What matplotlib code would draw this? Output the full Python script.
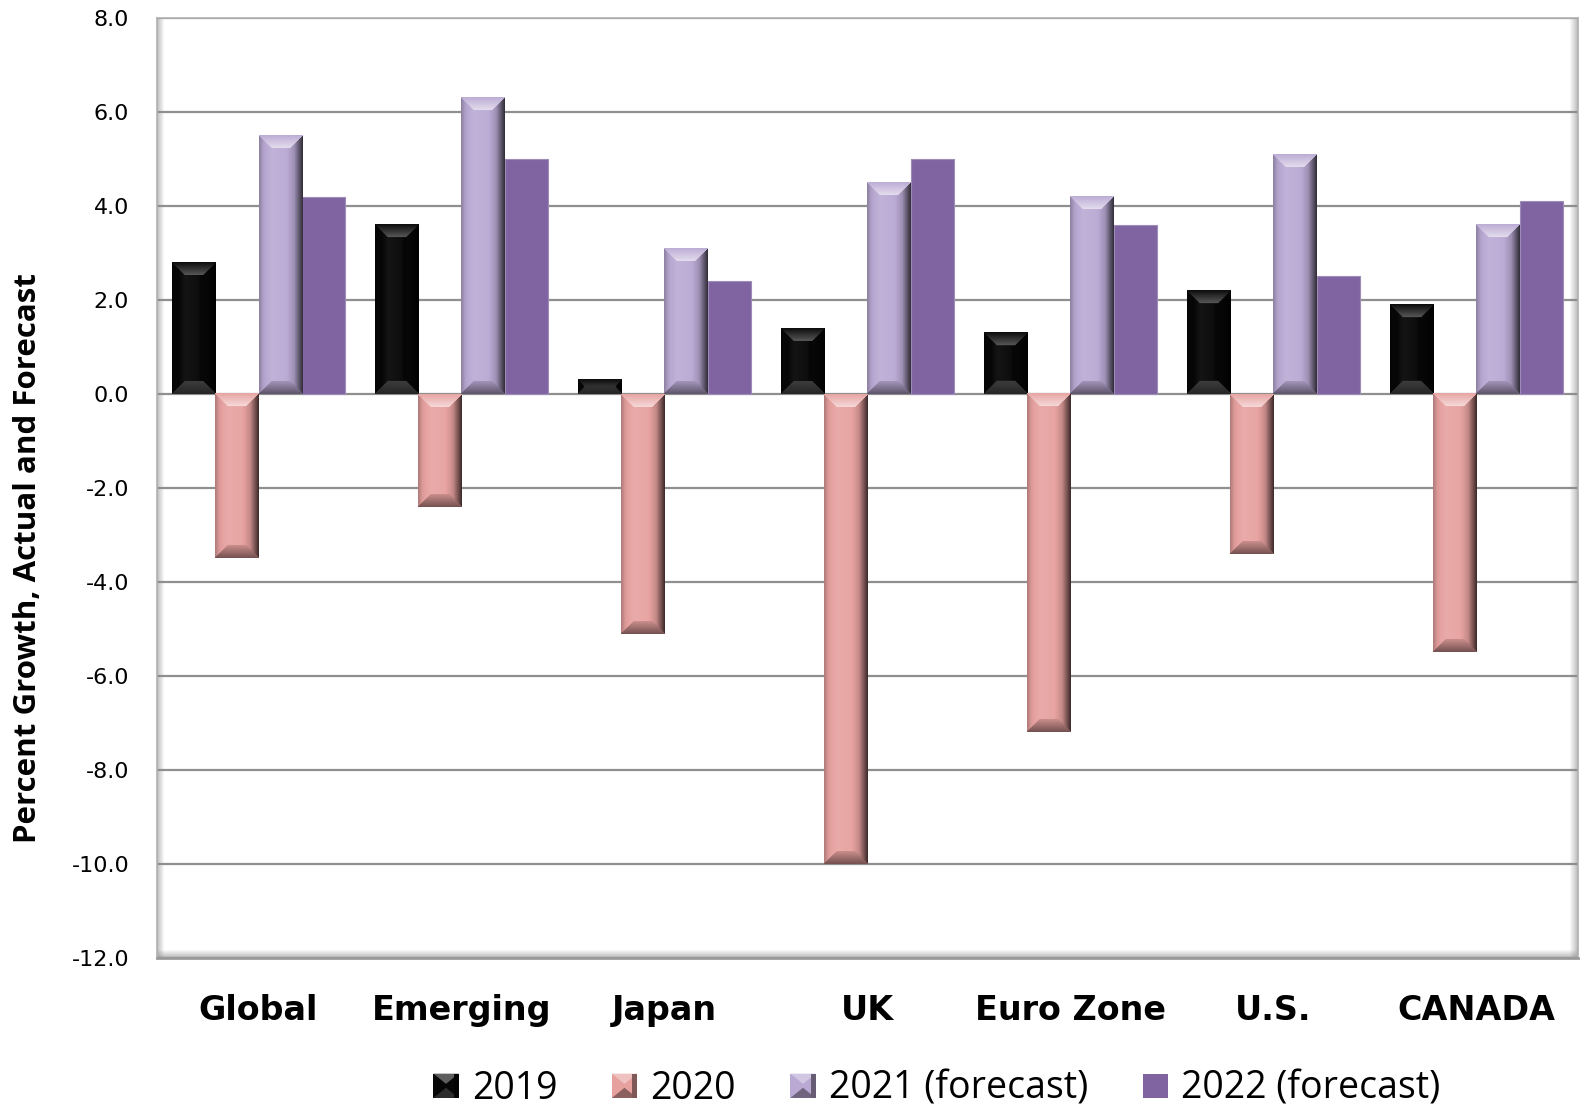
import numpy as np
import matplotlib.pyplot as plt
from matplotlib.colors import to_rgb
from matplotlib.patches import Rectangle, Polygon
from matplotlib.legend_handler import HandlerBase

# Real GDP growth by region, actual and forecast
regions = ['Global', 'Emerging', 'Japan', 'UK', 'Euro Zone', 'U.S.', 'CANADA']
growth_2019 = [2.8, 3.6, 0.3, 1.4, 1.3, 2.2, 1.9]
growth_2020 = [-3.5, -2.4, -5.1, -10.0, -7.2, -3.4, -5.5]
growth_2021 = [5.5, 6.3, 3.1, 4.5, 4.2, 5.1, 3.6]
growth_2022 = [4.2, 5.0, 2.4, 5.0, 3.6, 2.5, 4.1]
series_names = ['2019', '2020', '2021 (forecast)', '2022 (forecast)']
y_ticks = np.arange(-12, 8.1, 2)

series = [growth_2019, growth_2020, growth_2021, growth_2022]
colors = ['#070707', '#E6A19F', '#B9A9D3', '#8064A2']
bevelled = [True, True, True, False]
highlight = [0.32, 0.6, 0.6, 0.0]

W, H = 1583, 1115
fig = plt.figure(figsize=(W / 100, H / 100), dpi=100)
ax = fig.add_axes([157 / W, 1 - 958 / H, 1421 / W, 940 / H])
ax_w_px = 1421
ax_h_px = 940

x = np.arange(len(regions))
bar_w = 1 / 4.7
ylo, yhi = -12, 8
px_x = ax_w_px / len(regions)
px_y = ax_h_px / (yhi - ylo)


def shade(base, s):
    base = np.array(to_rgb(base))
    s = s[..., None]
    return np.clip(np.where(s > 0, base + (1 - base) * s, base * (1 + s)), 0, 1)


def bevel_image(color, w_px, h_px, hl, depth=13.5):
    w = max(int(round(w_px)), 2)
    h = max(int(round(h_px)), 2)
    X, Y = np.meshgrid(np.arange(w) + 0.5, np.arange(h) + 0.5)
    dl, dr, dt, db = X, w - X, Y, h - Y
    # rounded sides: soft highlight left of centre, dark right edge
    s = np.interp(X / w, [0, 0.1, 0.3, 0.6, 0.8, 0.9, 1.0],
                  [-0.25, -0.05, 0.1, 0.05, -0.15, -0.45, -0.75])
    s = np.where(s > 0, s * hl / 0.6, s)
    side = np.minimum(dl, dr)
    top = (dt < depth) & (dt <= side) & (dt <= db)
    bot = (db < depth) & (db <= side) & (db < dt)
    s = np.where(top, 0.05 * hl + hl * dt / depth, s)
    s = np.where(bot, -0.1 - 0.4 * (1 - db / depth), s)
    if hl < 0.4:
        s = np.where(bot, 0.12 + 0.1 * db / depth, s)
    return shade(color, s)


ax.set_axisbelow(True)
ax.yaxis.grid(True, color='#8f8f8f', linewidth=1.6)

for i, (vals, col, bev) in enumerate(zip(series, colors, bevelled)):
    pos = x + (i - 1.5) * bar_w
    edge = 'none' if bev else '#9d8bb8'
    ax.bar(pos, vals, width=bar_w, color=col, edgecolor=edge, linewidth=0.8, zorder=2)
    if not bev:
        continue
    for p, v in zip(pos, vals):
        img = bevel_image(col, bar_w * px_x, abs(v) * px_y, highlight[i])
        ax.imshow(img, extent=(p - bar_w / 2, p + bar_w / 2, min(0, v), max(0, v)),
                  origin='upper', aspect='auto', interpolation='bilinear', zorder=3)

ax.set_yticks(y_ticks)
ax.set_yticklabels([f'{t:.1f}' for t in y_ticks], fontsize=16, family='DejaVu Sans')
ax.set_xticks(x)
ax.set_xticklabels(regions, fontsize=24, fontweight='bold', family='DejaVu Sans')
ax.tick_params(axis='y', length=0, pad=20)
ax.tick_params(axis='x', length=0, pad=26)

# sunken frame around the plot area
for name in ['left', 'top', 'right']:
    ax.spines[name].set_color('#b0b0b0')
    ax.spines[name].set_linewidth(1.2)
ax.spines['bottom'].set_color('#9a9a9a')
ax.spines['bottom'].set_linewidth(2.0)


def band(extent, alpha, horizontal):
    a = np.asarray(alpha)
    arr = np.zeros((1, len(a), 4)) if horizontal else np.zeros((len(a), 1, 4))
    arr[..., :3] = 0.55
    arr[..., 3] = a if horizontal else a[:, None]
    ax.imshow(arr, extent=extent, transform=ax.transAxes, aspect='auto',
              interpolation='bilinear', zorder=1, clip_on=False)


band((0, 8 / ax_w_px, 0, 1), np.linspace(0.55, 0.0, 8), True)
band((1 - 9 / ax_w_px, 1, 0, 1), np.linspace(0.0, 0.55, 8), True)
band((0, 1, 0, 9 / ax_h_px), np.linspace(0.0, 0.6, 8), False)
ax.set_xlim(-0.5, len(regions) - 0.5)
ax.set_ylim(ylo, yhi)

fig.text(28 / W, 1 - 558 / H, 'Percent Growth, Actual and Forecast', rotation=90,
         ha='center', va='center', fontsize=22.5, fontweight='bold', family='Open Sans')


# legend keys with a bevelled look
class BevelKey(HandlerBase):
    def __init__(self, color, bevel):
        super().__init__()
        self.color = color
        self.bevel = bevel

    def create_artists(self, legend, orig_handle, xdescent, ydescent, width, height,
                       fontsize, trans):
        x0, y0 = -xdescent, -ydescent
        arts = [Rectangle((x0, y0), width, height, facecolor=self.color,
                          edgecolor='none', transform=trans)]
        if self.bevel:
            base = np.array(to_rgb(self.color))
            light = base + (1 - base) * 0.35
            dark = base * 0.6 if base.sum() > 0.3 else base + (1 - base) * 0.15
            d = height * 0.42
            arts.append(Polygon([[x0, y0 + height], [x0 + width, y0 + height],
                                 [x0 + width / 2, y0 + height - d]],
                                facecolor=light, edgecolor='none', transform=trans))
            arts.append(Polygon([[x0, y0], [x0 + width, y0], [x0 + width / 2, y0 + d]],
                                facecolor=dark, edgecolor='none', transform=trans))
            arts.append(Rectangle((x0 + width * 0.8, y0), width * 0.2, height,
                                  facecolor=base * 0.55, edgecolor='none', transform=trans))
        return arts


proxies = [Rectangle((0, 0), 1, 1, color=c) for c in colors]
handler_map = {p: BevelKey(c, b) for p, c, b in zip(proxies, colors, bevelled)}
fig.legend(proxies, series_names, handler_map=handler_map, loc='center',
           bbox_to_anchor=(937 / W, 1 - 1089 / H), ncol=4, frameon=False,
           borderpad=0.05, handlelength=0.67, handleheight=0.62, handletextpad=0.36,
           columnspacing=1.45, prop={'family': 'Open Sans', 'size': 27})

fig.savefig('out.png', dpi=100)
